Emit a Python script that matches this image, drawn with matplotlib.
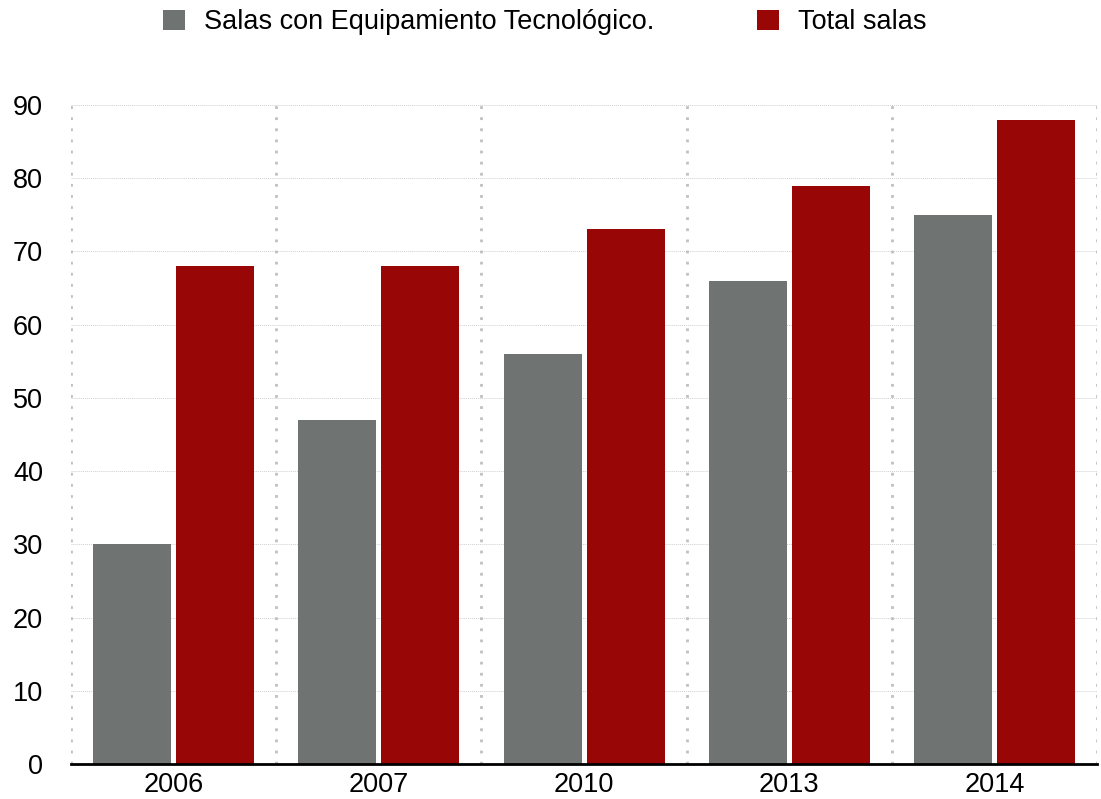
import numpy as np
import matplotlib.pyplot as plt

plt.rcParams['font.family'] = ['Liberation Sans', 'DejaVu Sans']

# Data
years = ['2006', '2007', '2010', '2013', '2014']
salas_equipadas = [30, 47, 56, 66, 75]
total_salas = [68, 68, 73, 79, 88]
yticks = [0, 10, 20, 30, 40, 50, 60, 70, 80, 90]

gray = '#6f7472'
red = '#990606'

fig = plt.figure(figsize=(11.01, 7.99), dpi=100)
ax = fig.add_axes([0.0645, 0.0438, 0.932, 0.8248])

x = np.arange(len(years))
w = 0.38
gap = 0.024
ax.bar(x - (w + gap) / 2, salas_equipadas, width=w, color=gray,
       label='Salas con Equipamiento Tecnológico.', zorder=3)
ax.bar(x + (w + gap) / 2, total_salas, width=w, color=red,
       label='Total salas', zorder=3)

ax.set_xlim(-0.5, len(years) - 0.5)
ax.set_ylim(0, 90)
ax.set_yticks(yticks)
ax.set_xticks(x)
ax.set_xticklabels(years)
ax.tick_params(axis='both', length=0, labelsize=19.5)
ax.tick_params(axis='y', pad=20)
ax.tick_params(axis='x', pad=6)

# dotted horizontal grid
for v in yticks[1:]:
    ax.axhline(v, color='#d0d0d0', linewidth=0.7, linestyle=(0, (1, 1)), zorder=1)
# dotted vertical separators between categories
for b in np.arange(-0.5, len(years), 1.0):
    ax.axvline(b, color='#c0c0c0', linewidth=2, linestyle=(0, (1, 3)), zorder=1)

for s in ['top', 'right', 'left']:
    ax.spines[s].set_visible(False)
ax.spines['bottom'].set_linewidth(2)
ax.spines['bottom'].set_color('black')
ax.spines['bottom'].set_zorder(4)

fig.legend(loc='upper left', bbox_to_anchor=(0.131, 1.012), ncol=2, frameon=False,
           fontsize=19.5, handlelength=0.8, handleheight=0.8, handletextpad=0.7,
           columnspacing=3.8, borderaxespad=0.3)

fig.savefig('out.png', dpi=100)
